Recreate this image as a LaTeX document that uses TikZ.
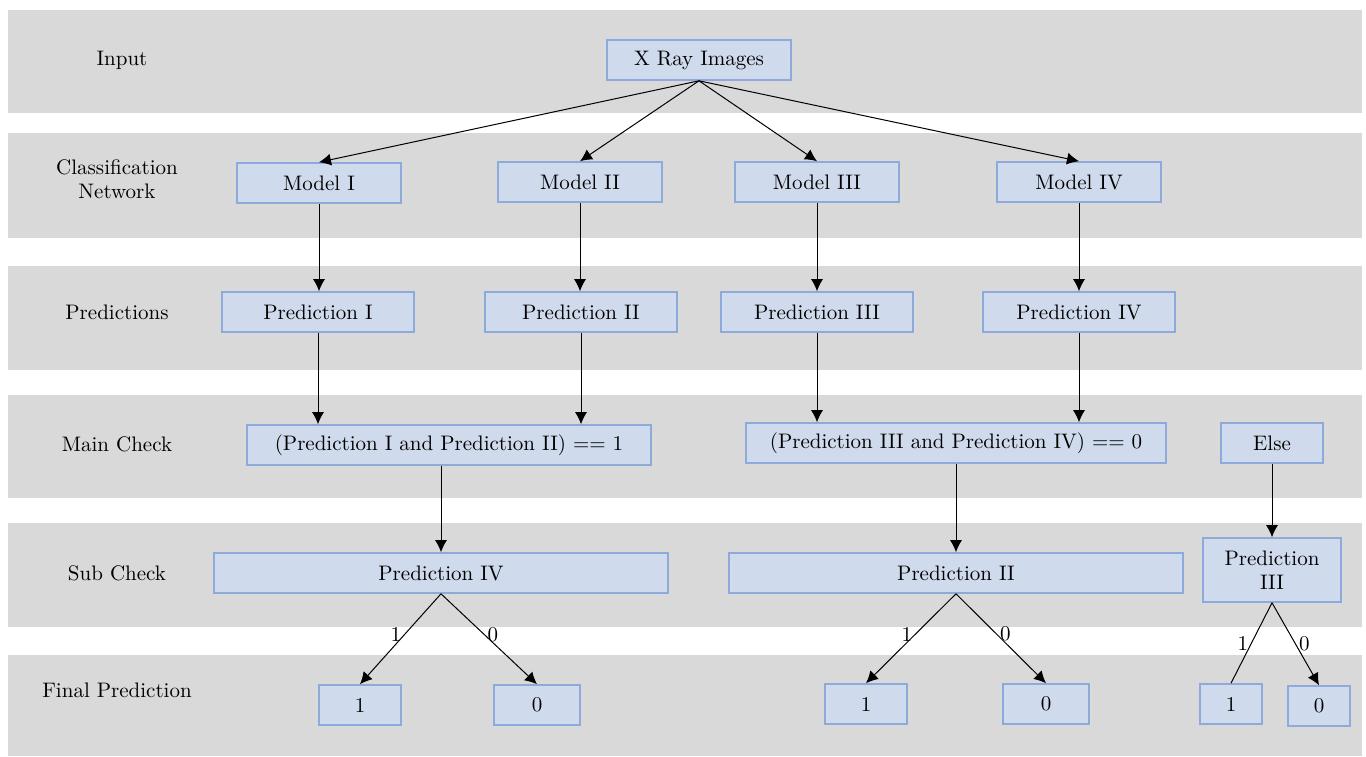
\documentclass[tikz,border=0pt]{standalone}
\usetikzlibrary{arrows.meta}

\definecolor{bandgray}{HTML}{D9D9D9}
\definecolor{boxfill}{HTML}{CFDAEC}
\definecolor{boxline}{HTML}{8EAADB}

\tikzset{
  band/.style={fill=bandgray, draw=none},
  box/.style={draw=boxline, fill=boxfill, line width=0.8pt, minimum height=20pt, inner sep=2pt, align=center},
  arr/.style={-{Latex[length=6pt,width=6pt]}, line width=0.5pt},
  rowlbl/.style={align=center},
  branch/.style={inner sep=1.5pt}
}

\begin{document}
\begin{tikzpicture}[x=0.5pt, y=-0.5pt, font=\fontsize{10.5}{12}\selectfont]
    \useasboundingbox (0,0) rectangle (1366,756);

    % Bandes grises
    \foreach \t/\b in {10/113, 133/238, 266/370, 395/498, 523/627, 655/756}
        \fill[band] (8,\t) rectangle (1362,\b);

    % Titres des lignes
    \node[rowlbl] (lInput) at (122,60) {Input};
    \node[rowlbl] (lNet) at (117,179) {Classification\\Network};
    \node[rowlbl] (lPred) at (117,312) {Predictions};
    \node[rowlbl] (lMain) at (117,444) {Main Check};
    \node[rowlbl] (lSub) at (117,573) {Sub Check};
    \node[rowlbl] (lFinal) at (117,690) {Final Prediction};

    % Entree
    \node[box, minimum width=92pt] (xray) at (699,60) {X Ray Images};

    % Modeles
    \node[box, minimum width=82pt] (m1) at (319,183) {Model I};
    \node[box, minimum width=82pt] (m2) at (580,182) {Model II};
    \node[box, minimum width=82pt] (m3) at (817,182) {Model III};
    \node[box, minimum width=82pt] (m4) at (1079,182) {Model IV};

    % Predictions
    \node[box, minimum width=96pt] (p1) at (318,312) {Prediction I};
    \node[box, minimum width=96pt] (p2) at (581,312) {Prediction II};
    \node[box, minimum width=96pt] (p3) at (817,312) {Prediction III};
    \node[box, minimum width=96pt] (p4) at (1079,312) {Prediction IV};

    % Main check
    \node[box, minimum width=202pt] (mc1) at (449,445) {(Prediction I and Prediction II) == 1};
    \node[box, minimum width=210pt] (mc2) at (956,443) {(Prediction III and Prediction IV) == 0};
    \node[box, minimum width=51pt] (else) at (1272,443) {Else};

    % Sub check
    \node[box, minimum width=227pt] (sc1) at (441,573) {Prediction IV};
    \node[box, minimum width=227pt] (sc2) at (956,573) {Prediction II};
    \node[box, minimum width=69pt, minimum height=32pt] (sc3) at (1272,570) {Prediction\\III};

    % Final prediction
    \node[box, minimum width=41pt] (f1a) at (360,705) {1};
    \node[box, minimum width=43pt] (f1b) at (537,705) {0};
    \node[box, minimum width=41pt] (f2a) at (866,704) {1};
    \node[box, minimum width=43pt] (f2b) at (1046,704) {0};
    \node[box, minimum width=31pt] (f3a) at (1231,704) {1};
    \node[box, minimum width=31pt] (f3b) at (1319,706) {0};

    % Fleches
    \foreach \m in {m1,m2,m3,m4}
        \draw[arr] (xray.south) -- (\m.north);
    \draw[arr] (m1.south) -- (m1.south |- p1.north);
    \draw[arr] (m2.south) -- (m2.south |- p2.north);
    \draw[arr] (m3.south) -- (m3.south |- p3.north);
    \draw[arr] (m4.south) -- (m4.south |- p4.north);
    \draw[arr] (p1.south) -- (p1.south |- mc1.north);
    \draw[arr] (p2.south) -- (p2.south |- mc1.north);
    \draw[arr] (p3.south) -- (p3.south |- mc2.north);
    \draw[arr] (p4.south) -- (p4.south |- mc2.north);
    \draw[arr] (sc1.north |- mc1.south) -- (sc1.north);
    \draw[arr] (mc2.south) -- (sc2.north);
    \draw[arr] (else.south) -- (sc3.north);

    % Branches 1 / 0
    \draw[arr] (sc1.south) -- node[branch, pos=0.45, left] {1} (f1a.north);
    \draw[arr] (sc1.south) -- node[branch, pos=0.45, right] {0} (f1b.north);
    \draw[arr] (sc2.south) -- node[branch, pos=0.45, left] {1} (f2a.north);
    \draw[arr] (sc2.south) -- node[branch, pos=0.45, right] {0} (f2b.north);
    \draw[line width=0.5pt] (sc3.south) -- node[branch, pos=0.5, left] {1} (f3a.north);
    \draw[arr] (sc3.south) -- node[branch, pos=0.5, right] {0} (f3b.north);

\end{tikzpicture}
\end{document}
